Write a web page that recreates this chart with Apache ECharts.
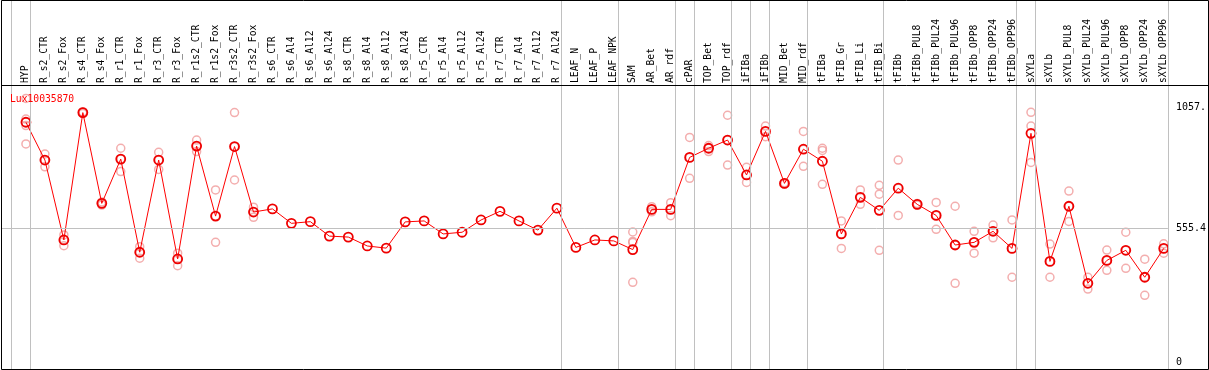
<!DOCTYPE html>
<html>
<head>
<meta charset="utf-8">
<script src="https://cdn.jsdelivr.net/npm/echarts@6/dist/echarts.min.js"></script>
<style>
html,body{margin:0;padding:0;background:#fff;}
#chart{width:1209px;height:370px;}
</style>
</head>
<body>
<div id="chart"></div>
<script>
const seriesName = 'Lux10035870';
const categories = ['HYP','R_s2_CTR','R_s2_Fox','R_s4_CTR','R_s4_Fox','R_r1_CTR','R_r1_Fox','R_r3_CTR','R_r3_Fox','R_r1s2_CTR','R_r1s2_Fox','R_r3s2_CTR','R_r3s2_Fox','R_s6_CTR','R_s6_Al4','R_s6_Al12','R_s6_Al24','R_s8_CTR','R_s8_Al4','R_s8_Al12','R_s8_Al24','R_r5_CTR','R_r5_Al4','R_r5_Al12','R_r5_Al24','R_r7_CTR','R_r7_Al4','R_r7_Al12','R_r7_Al24','LEAF_N','LEAF_P','LEAF_NPK','SAM','AR_Bet','AR_rdf','cPAR','TOP_Bet','TOP_rdf','iFIBa','iFIBb','MID_Bet','MID_rdf','tFIBa','tFIB_Gr','tFIB_Li','tFIB_Bi','tFIBb','tFIBb_PUL8','tFIBb_PUL24','tFIBb_PUL96','tFIBb_OPP8','tFIBb_OPP24','tFIBb_OPP96','sXYLa','sXYLb','sXYLb_PUL8','sXYLb_PUL24','sXYLb_PUL96','sXYLb_OPP8','sXYLb_OPP24','sXYLb_OPP96'];
const means = [996,839,507,1036,659,843,456,839,428,897,606,895,623,636,576,583,523,519,482,473,582,586,532,539,590,626,586,548,639,476,507,503,467,634,634,850,888,922,777,958,742,884,834,532,684,630,722,655,609,486,497,543,472,950,418,647,327,422,464,352,472];
const replicates = [
 [1095,1009,982,906],[864,839,811],[528,507,483],[1040,1036,1032],[665,659,652],
 [888,843,791],[479,456,431],[871,839,800],[452,428,400],[922,897,874],
 [715,606,497],[1036,894,756],[643,623,601],[],[],[],[],[],[],[],[],[],[],[],[],[],[],[],[],[],[],[],
 [540,501,496,331],[645,634,624],[662,634,608],[933,850,763],[899,888,874],[1025,922,818],
 [809,777,746],[980,958,936],[745,742,739],[958,884,813],[888,879,738],[586,532,472],
 [715,684,655],[734,697,464],[839,722,609],[658,655,652],[663,609,551],[647,486,327],
 [543,497,452],[569,543,516],[590,472,352],[1037,980,829],[490,418,352],[710,647,584],
 [352,327,303],[465,422,381],[539,464,389],[427,352,277],[491,472,452]
];
const groupEnds = [-1,0,28,31,34,35,37,38,39,41,45,52,53,60];
const yTickValues = [0, 555.4, 1057.2];
const yTickLabels = ['0', '555.4', '1057.'];
const refValue = 555.4;

const FONT = 'DejaVu Sans Mono';
const chart = echarts.init(document.getElementById('chart'), null, {renderer:'canvas'});

const repData = [];
replicates.forEach((arr, i) => arr.forEach(v => repData.push([i, v])));
const meanData = means.map((v, i) => [i, v]);

const option = {
  animation: false,
  backgroundColor: '#fff',
  title: {
    text: seriesName, left: 5, top: 89,
    textStyle: {color: '#ff0000', fontFamily: FONT, fontSize: 9.7, fontWeight: 'normal'}
  },
  grid: {left: 2, top: 0, width: 1168.8, height: 369, containLabel: false},
  xAxis: {
    type: 'value', min: -1.2625, max: 60.22, position: 'top', offset: -85,
    axisLine: {show: false}, axisTick: {show: false}, splitLine: {show: false},
    axisLabel: {
      customValues: categories.map((c, i) => i),
      formatter: v => categories[Math.round(v)],
      rotate: 90, margin: 2, color: '#000', fontFamily: FONT, fontSize: 9.7
    }
  },
  yAxis: {
    type: 'value', min: -29.08, max: 1503.8, position: 'right',
    axisLine: {show: false}, axisTick: {show: false}, splitLine: {show: false},
    axisLabel: {
      customValues: yTickValues,
      formatter: v => yTickLabels[yTickValues.indexOf(v)],
      margin: 8, color: '#000', fontFamily: FONT, fontSize: 10
    }
  },
  graphic: [
    {type: 'rect', silent: true, z: 100, shape: {x: 1.5, y: 0.5, width: 1207, height: 369}, style: {fill: null, stroke: '#000', lineWidth: 1}},
    {type: 'line', silent: true, z: 100, shape: {x1: 1.5, y1: 85.5, x2: 1208.5, y2: 85.5}, style: {stroke: '#000', lineWidth: 1}}
  ],
  series: [
    {
      type: 'scatter', name: 'replicates', data: repData, z: 2,
      symbol: 'circle', symbolSize: 8,
      itemStyle: {color: 'rgba(0,0,0,0)', borderColor: '#f09a9a', borderWidth: 1.5},
      markLine: {
        silent: true, symbol: 'none', label: {show: false},
        lineStyle: {color: '#c0c0c0', type: 'solid', width: 1},
        data: groupEnds.map(i => ({xAxis: i + 0.22})).concat([{yAxis: refValue}])
      }
    },
    {
      type: 'line', name: seriesName, data: meanData, z: 3,
      symbol: 'circle', symbolSize: 9, showAllSymbol: true,
      lineStyle: {color: '#ff0000', width: 1},
      itemStyle: {color: 'rgba(0,0,0,0)', borderColor: '#ee0000', borderWidth: 1.8}
    }
  ]
};
chart.setOption(option);
</script>
</body>
</html>
